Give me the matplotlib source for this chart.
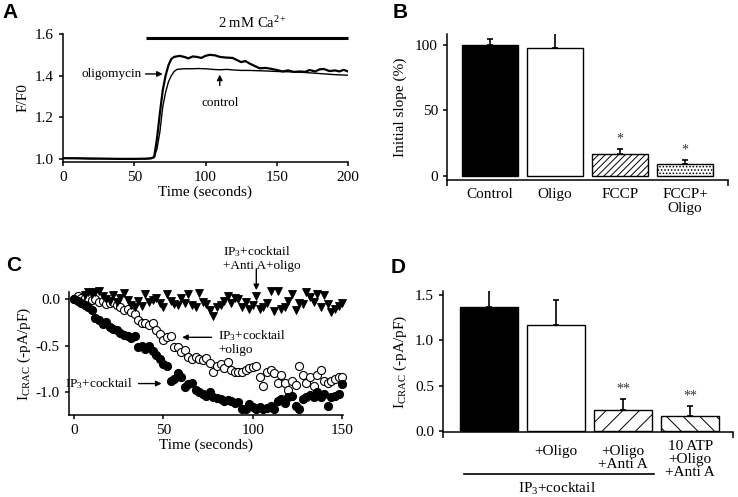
import numpy as np
import matplotlib
matplotlib.use("Agg")
import matplotlib.pyplot as plt

plt.rcParams['font.family'] = ['Liberation Serif', 'DejaVu Serif']
plt.rcParams['mathtext.fontset'] = 'custom'
plt.rcParams['mathtext.rm'] = 'Liberation Serif'
plt.rcParams['mathtext.it'] = 'Liberation Serif:italic'
plt.rcParams['hatch.linewidth'] = 0.7
plt.rcParams['axes.linewidth'] = 1.1
plt.rcParams['xtick.direction'] = 'out'
plt.rcParams['ytick.direction'] = 'out'
plt.rcParams['xtick.major.size'] = 3
plt.rcParams['ytick.major.size'] = 3

# ---------------- data ----------------
# Panel A: Fura traces
oligo_t = [0, 10, 20, 30, 40, 50, 58, 62, 64, 66, 68, 70, 72, 74, 76, 78, 82, 86, 88, 91, 94, 97,
           100, 103, 107, 110, 114, 119, 122, 125, 128, 131, 134, 138, 142, 146, 150, 154, 158,
           162, 166, 170, 173, 177, 180, 183, 187, 191, 194, 197, 200]
oligo_v = [1.003, 1.003, 1.002, 1.001, 1.000, 1.000, 1.001, 1.003, 1.01, 1.10, 1.22, 1.33, 1.40,
           1.45, 1.48, 1.49, 1.495, 1.488, 1.483, 1.492, 1.49, 1.485, 1.495, 1.50, 1.497, 1.49,
           1.487, 1.485, 1.475, 1.465, 1.47, 1.458, 1.448, 1.435, 1.437, 1.433, 1.427, 1.42, 1.425,
           1.418, 1.42, 1.418, 1.427, 1.42, 1.43, 1.432, 1.422, 1.425, 1.42, 1.428, 1.42]
ctrl_t = [0, 10, 20, 30, 40, 50, 58, 62, 64, 66, 68, 70, 72, 74, 76, 78, 80, 85, 90, 95, 100, 105,
          110, 115, 120, 125, 130, 140, 150, 160, 170, 180, 190, 200]
ctrl_v = [1.003, 1.002, 1.000, 1.001, 1.000, 1.000, 1.000, 1.002, 1.006, 1.05, 1.13, 1.25, 1.32,
          1.37, 1.40, 1.42, 1.43, 1.433, 1.433, 1.434, 1.433, 1.43, 1.428, 1.43, 1.427, 1.425,
          1.425, 1.423, 1.42, 1.418, 1.415, 1.41, 1.405, 1.402]

# Panel B: initial slope
b_labels = ["Control", "Oligo", "FCCP", "FCCP+\nOligo"]
b_values = [100, 97, 17, 9]
b_errors = [4.5, 11.5, 3.5, 3.2]

# Panel C: I_CRAC time courses (sampled every 2 s)
filled_v = [0.00, -0.02, -0.04, -0.06, -0.08, -0.12, -0.20, -0.22, -0.27, -0.24, -0.30, -0.32,
            -0.33, -0.36, -0.38, -0.40, -0.42, -0.40, -0.52, -0.50, -0.54, -0.50, -0.56, -0.60,
            -0.64, -0.70, -0.72, -0.88, -0.86, -0.80, -0.84, -0.95, -0.92, -0.90, -0.98, -1.00,
            -1.02, -1.04, -1.00, -1.06, -1.07, -1.08, -1.10, -1.09, -1.10, -1.12, -1.11, -1.19,
            -1.18, -1.13, -1.16, -1.19, -1.16, -1.18, -1.17, -1.15, -1.18, -1.10, -1.08, -1.12,
            -1.06, -1.04, -1.15, -1.19, -1.08, -1.06, -1.03, -1.05, -1.00, -1.05, -1.02, -1.15,
            -1.06, -1.04, -1.02, -0.92]
open_v = [0.00, 0.04, 0.02, 0.01, 0.02, -0.01, 0.00, -0.03, -0.02, -0.05, -0.04, -0.03, -0.06,
          -0.08, -0.12, -0.10, -0.14, -0.16, -0.22, -0.25, -0.26, -0.28, -0.25, -0.33, -0.37,
          -0.44, -0.41, -0.40, -0.52, -0.52, -0.57, -0.55, -0.62, -0.64, -0.62, -0.64, -0.66,
          -0.63, -0.69, -0.78, -0.72, -0.70, -0.74, -0.68, -0.76, -0.78, -0.78, -0.78, -0.76,
          -0.74, -0.73, -0.72, -0.84, -0.94, -0.78, -0.76, -0.80, -0.90, -0.82, -0.90, -0.98,
          -0.88, -0.93, -0.72, -0.82, -0.90, -0.84, -0.94, -0.82, -0.76, -0.88, -0.90, -0.88,
          -0.86, -0.84, -0.84]
tri_v = [0.05, 0.08, 0.06, 0.08, 0.09, 0.04, 0.00, -0.02, 0.05, -0.03, 0.02, 0.07, -0.01, -0.06,
         -0.08, -0.02, -0.07, 0.06, -0.03, -0.01, 0.02, -0.04, -0.08, 0.06, -0.02, -0.05, -0.06,
         0.02, -0.04, 0.06, -0.06, -0.08, 0.07, -0.03, -0.05, -0.11, -0.18, -0.08, -0.06, -0.02,
         0.04, -0.04, 0.02, 0.00, -0.08, -0.03, -0.10, -0.06, 0.04, -0.10, -0.08, -0.04, 0.09,
         -0.13, 0.09, -0.10, -0.08, -0.02, 0.06, -0.12, -0.04, -0.05, 0.08, 0.03, -0.03, 0.06,
         -0.08, 0.05, -0.05, -0.14, -0.10, -0.07, -0.04]
circ_t = np.arange(len(filled_v)) * 2
tri_t = 6 + np.arange(len(tri_v)) * 2

# Panel D: I_CRAC summary
d_labels = ["", "+Oligo", "+Oligo\n+Anti A", "10 ATP\n+Oligo\n+Anti A"]
d_values = [1.37, 1.17, 0.23, 0.17]
d_errors = [0.19, 0.28, 0.125, 0.105]

# ---------------- figure ----------------
W, H = 738, 497
fig = plt.figure(figsize=(W / 100, H / 100), dpi=100)


def ax_px(l, t, r, b):
    return fig.add_axes([l / W, 1 - b / H, (r - l) / W, (b - t) / H])


def style(ax):
    for s in ['top', 'right']:
        ax.spines[s].set_visible(False)
    ax.tick_params(labelsize=11, width=1.1, length=3)


FS = 11
letter_kw = dict(fontsize=15, fontweight='bold', family='Liberation Sans', va='top', ha='left')
fig.text(2 / W, 1 - 3 / H, "A", **letter_kw)
fig.text(393 / W, 1 - 3 / H, "B", **letter_kw)
fig.text(6 / W, 1 - 256 / H, "C", **letter_kw)
fig.text(391 / W, 1 - 258 / H, "D", **letter_kw)

# ---- Panel A ----
axA = ax_px(63, 34, 348, 162)
style(axA)
axA.plot(ctrl_t, ctrl_v, color='black', lw=1.0)
axA.plot(oligo_t, oligo_v, color='black', lw=1.6)
axA.set_xlim(0, 200)
axA.set_ylim(0.985, 1.6)
axA.set_xticks([0, 50, 100, 150, 200])
axA.set_yticks([1.0, 1.2, 1.4, 1.6])
axA.set_yticklabels(["1.0", "1.2", "1.4", "1.6"])
axA.set_xlabel("Time (seconds)", fontsize=FS, labelpad=1)
axA.set_ylabel("F/F0", fontsize=FS, labelpad=4)
axA.plot([58, 200], [1.58, 1.58], color='black', lw=2.2, clip_on=False, solid_capstyle='butt')
axA.text(133, 1.615, "2 mM Ca$^{2+}$", ha='center', va='bottom', fontsize=10.5)
axA.annotate("oligomycin", xy=(70, 1.408), xytext=(55, 1.408), fontsize=9.5,
             ha='right', va='center',
             arrowprops=dict(arrowstyle='-|>', color='black', lw=1.0, mutation_scale=8,
                             shrinkA=1, shrinkB=0))
axA.annotate("control", xy=(110, 1.405), xytext=(110, 1.27), fontsize=9.5,
             ha='center', va='center',
             arrowprops=dict(arrowstyle='-|>', color='black', lw=1.0, mutation_scale=8,
                             shrinkA=6, shrinkB=0))

# ---- Panel B ----
axB = ax_px(447, 34, 728, 180)
style(axB)
xb = np.arange(len(b_values))
bw = 0.86
barsB = axB.bar(xb, b_values, width=bw, color=['black', 'white', 'white', 'white'],
                edgecolor='black', linewidth=1.0)
barsB[2].set_hatch('/////')
barsB[3].set_hatch('.....')
axB.errorbar(xb, b_values, yerr=[np.zeros(len(b_errors)), b_errors], fmt='none',
             ecolor='black', elinewidth=1.2, capsize=2.5, capthick=1.2)
for i in [2, 3]:
    axB.text(xb[i], b_values[i] + b_errors[i] + 3, "*", ha='center', va='bottom', fontsize=10,
             color='#333333')
axB.set_xlim(-0.66, 3.66)
axB.set_ylim(-3, 108)
axB.set_yticks([0, 50, 100])
axB.set_xticks(xb)
axB.set_xticklabels(b_labels, fontsize=FS, va='top', linespacing=1.1)
axB.tick_params(axis='x', length=0, pad=6)
axB.set_xticks([-0.66, 3.66], minor=True)
axB.tick_params(axis='x', which='minor', length=4, width=1.1)
axB.set_ylabel("Initial slope (%)", fontsize=FS, labelpad=6)

# ---- Panel C ----
axC = ax_px(69, 292, 343, 415)
style(axC)
axC.plot(circ_t, open_v, 'o', mfc='white', mec='black', ms=5.8, mew=0.8, clip_on=False)
axC.plot(circ_t, filled_v, 'o', mfc='black', mec='black', ms=5.8, mew=0.8, clip_on=False)
axC.plot(tri_t, tri_v, 'v', mfc='black', mec='black', ms=6.2, mew=0.6, clip_on=False)
axC.set_xlim(-2.8, 150.5)
axC.set_ylim(-1.25, 0.08)
axC.set_xticks([0, 50, 100, 150])
axC.set_yticks([0.0, -0.5, -1.0])
axC.set_yticklabels(["0.0", "-0.5", "-1.0"])
axC.set_xlabel("Time (seconds)", fontsize=FS, labelpad=1)
axC.set_ylabel("I$_\\mathrm{CRAC}$ (-pA/pF)", fontsize=FS, labelpad=2)
arr = dict(arrowstyle='-|>', color='black', lw=1.0, mutation_scale=8, shrinkA=0, shrinkB=0)
axC.text(83.5, 0.60, "IP$_\\mathrm{3}$+cocktail\n+Anti A+oligo", ha='left', va='top',
         fontsize=9.5, linespacing=1.15, clip_on=False)
axC.annotate("", xy=(102, 0.10), xytext=(102, 0.33), arrowprops=arr, annotation_clip=False)
axC.text(80.5, -0.31, "IP$_\\mathrm{3}$+cocktail\n+oligo", ha='left', va='top',
         fontsize=9.5, linespacing=1.15)
axC.annotate("", xy=(60.5, -0.41), xytext=(77, -0.41), arrowprops=arr)
axC.annotate("IP$_\\mathrm{3}$+cocktail", xy=(49, -0.91), xytext=(33, -0.91), fontsize=9.5,
             ha='right', va='center',
             arrowprops=dict(arrowstyle='-|>', color='black', lw=1.0, mutation_scale=8,
                             shrinkA=2, shrinkB=0))

# ---- Panel D ----
axD = ax_px(443, 291, 733, 432)
style(axD)
xd = np.arange(len(d_values))
barsD = axD.bar(xd, d_values, width=0.866, color=['black', 'white', 'white', 'white'],
                edgecolor='black', linewidth=1.0)
barsD[2].set_hatch('//')
barsD[3].set_hatch('\\\\')
axD.errorbar(xd, d_values, yerr=[np.zeros(len(d_errors)), d_errors], fmt='none',
             ecolor='black', elinewidth=1.2, capsize=2.5, capthick=1.2)
for i in [2, 3]:
    axD.text(xd[i], d_values[i] + d_errors[i] + 0.04, "**", ha='center', va='bottom',
             fontsize=10, color='#333333')
axD.set_xlim(-0.69, 3.64)
axD.set_ylim(-0.011, 1.545)
axD.set_yticks([0.0, 0.5, 1.0, 1.5])
axD.set_yticklabels(["0.0", "0.5", "1.0", "1.5"])
axD.set_xticks(xd[:3])
axD.set_xticklabels(d_labels[:3], fontsize=FS, linespacing=1.0)
axD.tick_params(axis='x', length=0, pad=9)
axD.text(xd[3], -0.10, d_labels[3], ha='center', va='top', fontsize=FS, linespacing=1.0)
axD.set_xticks([-0.69, 3.64], minor=True)
axD.tick_params(axis='x', which='minor', length=4, width=1.1)
axD.set_ylabel("I$_\\mathrm{CRAC}$ (-pA/pF)", fontsize=FS, labelpad=4)
axD.plot([-0.37, 2.46], [-0.48, -0.48], color='black', lw=1.2, clip_on=False)
axD.text(1.01, -0.55, "IP$_\\mathrm{3}$+cocktail", ha='center', va='top', fontsize=FS,
         clip_on=False)

fig.savefig("out.png", dpi=100)
